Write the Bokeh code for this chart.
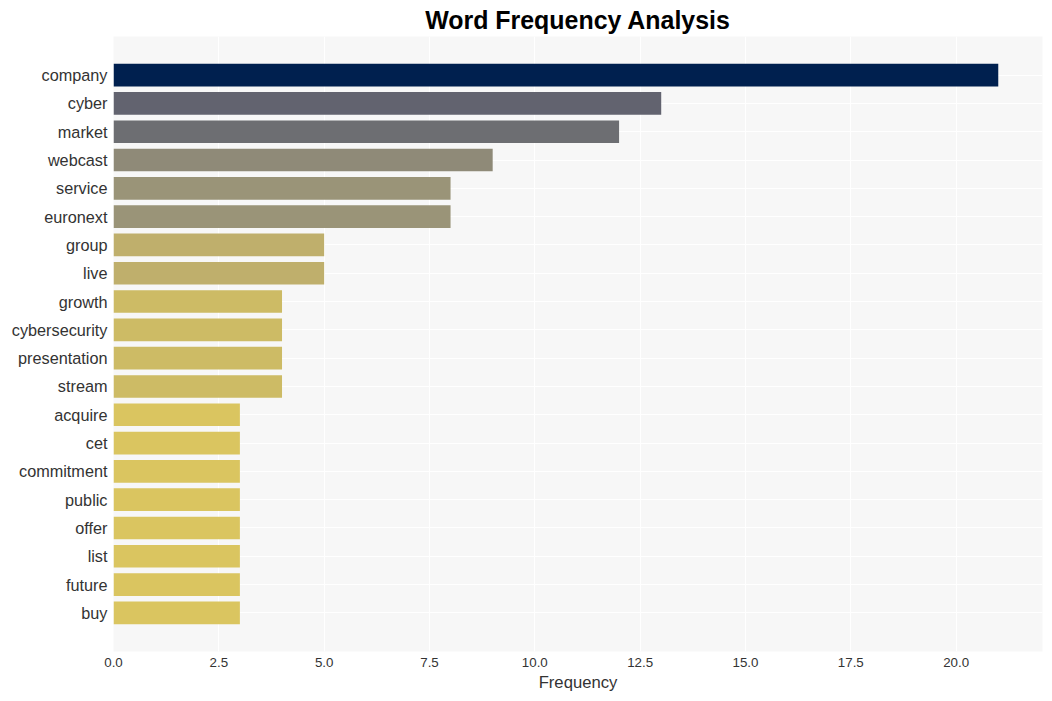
from bokeh.plotting import figure
from bokeh.models import FactorRange, Range1d, SingleIntervalTicker, NumeralTickFormatter, ColumnDataSource
from bokeh.embed import file_html
from bokeh.resources import INLINE

words = ["company", "cyber", "market", "webcast", "service", "euronext", "group", "live",
         "growth", "cybersecurity", "presentation", "stream", "acquire", "cet", "commitment",
         "public", "offer", "list", "future", "buy"]
counts = [21, 13, 12, 9, 8, 8, 5, 5, 4, 4, 4, 4, 3, 3, 3, 3, 3, 3, 3, 3]
colors = ["#00204f", "#62636f", "#6d6e72", "#8f8a78", "#9a9478", "#9a9478", "#bfaf6c", "#bfaf6c",
          "#cdbb65", "#cdbb65", "#cdbb65", "#cdbb65", "#dac560", "#dac560", "#dac560",
          "#dac560", "#dac560", "#dac560", "#dac560", "#dac560"]

src = ColumnDataSource(dict(word=words, count=counts, color=colors))

p = figure(width=1044, height=700, output_backend="svg", toolbar_location=None,
           y_range=FactorRange(factors=list(reversed(words)), range_padding=0.0865),
           x_range=Range1d(0, 22.05),
           title="Word Frequency Analysis",
           min_border_left=113, min_border_right=2, min_border_top=0, min_border_bottom=49)

p.hbar(y="word", right="count", left=0, height=0.8, color="color", source=src, line_color=None)

p.title.align = "center"
p.title.text_font = "Liberation Sans"
p.title.text_font_size = "18.7pt"
p.title.text_font_style = "bold"
p.title.text_color = "#000000"
p.title.standoff = 6

p.background_fill_color = "#f7f7f7"
p.border_fill_color = "white"
p.outline_line_color = None

p.xgrid.grid_line_color = "white"
p.ygrid.grid_line_color = "white"
p.xgrid.grid_line_width = 1
p.ygrid.grid_line_width = 1

p.xaxis.ticker = SingleIntervalTicker(interval=2.5)
p.xaxis.formatter = NumeralTickFormatter(format="0.0")
p.xaxis.axis_label = "Frequency"
p.xaxis.axis_label_text_font = "Liberation Sans"
p.xaxis.axis_label_text_font_size = "12.5pt"
p.xaxis.axis_label_text_font_style = "normal"
p.xaxis.axis_label_text_color = "#333333"
p.xaxis.axis_label_standoff = 3

for ax in (p.xaxis, p.yaxis):
    ax.axis_line_color = None
    ax.major_tick_line_color = None
    ax.minor_tick_line_color = None
    ax.major_label_text_font = "Liberation Sans"

p.xaxis.major_label_text_font_size = "10pt"
p.xaxis.major_label_text_color = "#333333"
p.xaxis.major_label_standoff = 0
p.yaxis.major_label_text_font_size = "12.2pt"
p.yaxis.major_label_text_color = "#333333"
p.yaxis.major_label_standoff = 0

open("out.html", "w").write(file_html(p, INLINE))
